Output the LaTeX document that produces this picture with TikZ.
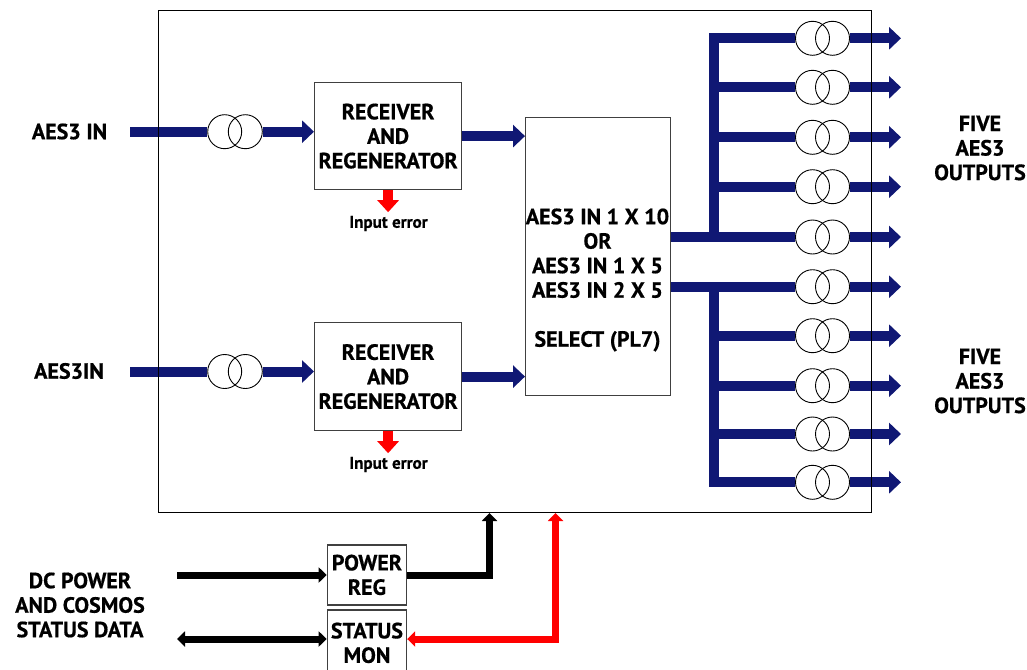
\documentclass[tikz,border=0pt]{standalone}
\usepackage{fontspec}
\setmainfont{PT Sans}
\newfontfamily\hvf{PT Sans}[FakeBold=0.6]
\usetikzlibrary{arrows.meta,calc}
\definecolor{navy}{RGB}{16,24,116}
\begin{document}
\begin{tikzpicture}[x=1pt,y=-1pt,
  lbl/.style={font=\hvf\bfseries\fontsize{22}{24.5}\selectfont, align=center, inner sep=0pt},
  small/.style={font=\hvf\bfseries\fontsize{17}{18}\selectfont, inner sep=0pt},
  box/.style={draw=black!75, line width=1.2pt, inner sep=0pt, anchor=north west, font=\hvf\bfseries\fontsize{22}{24.5}\selectfont, align=center},
  coil/.style={circle, draw=black, line width=0.9pt, minimum size=34pt, inner sep=0pt},
  bus/.style={draw=navy, line width=10pt, line join=miter},
  busarrow/.style={bus, -{Triangle[length=12pt,width=22pt]}},
  errarrow/.style={draw=red, line width=10pt, -{Triangle[length=12pt,width=21pt]}},
  blk/.style={draw=black, line width=7pt, line join=miter},
  blktip/.tip={Triangle[length=8pt,width=15pt]},
  redl/.style={draw=red, line width=7pt, line join=miter},
]
\useasboundingbox (0,0) rectangle (1027,669);

% boxes
\node[box, minimum width=147pt, minimum height=107pt] (rx1) at (314,82) {RECEIVER\\AND\\REGENERATOR};
\node[box, minimum width=147pt, minimum height=108pt] (rx2) at (314,322) {RECEIVER\\AND\\REGENERATOR};
\node[box, minimum width=145pt, minimum height=278pt] (sel) at (525,117) {};
\node[lbl] (seltxt) at (597.5,280) {AES3 IN 1 X 10\\OR\\AES3 IN 1 X 5\\AES3 IN 2 X 5\\[24.5pt]SELECT (PL7)};
\node[box, minimum width=79.3pt, minimum height=60pt] (pwr) at (326.7,544.3) {POWER\\REG};
\node[box, minimum width=79.3pt, minimum height=66pt] (stat) at (326.7,609.3) {STATUS\\MON};

% labels
\node[lbl] (in1lbl) at (69.5,131.5) {AES3 IN};
\node[lbl] (in2lbl) at (69,371) {AES3IN};
\node[lbl] (outAlbl) at (980,148) {FIVE\\AES3\\OUTPUTS};
\node[lbl] (outBlbl) at (980,381) {FIVE\\AES3\\OUTPUTS};
\node[lbl] (dclbl) at (80,605) {DC POWER\\AND COSMOS\\STATUS DATA};

% input transformers
\node[coil] (t1a) at (224.7,131.7) {};
\node[coil] (t1b) at (245.3,131.7) {};
\node[coil] (t2a) at (224.7,371.5) {};
\node[coil] (t2b) at (245.3,371.5) {};
\coordinate (in1) at (130,131.7);
\coordinate (in2) at (130,371.5);
\draw[bus] (in1) -- (t1a.west);
\draw[busarrow] (t1b.east) -- (t1b.east -| rx1.west);
\draw[bus] (in2) -- (t2a.west);
\draw[busarrow] (t2b.east) -- (t2b.east -| rx2.west);

% receiver to select
\draw[busarrow] (rx1.east) -- (rx1.east -| sel.west);
\draw[busarrow] (rx2.east) -- (rx2.east -| sel.west);

% error outputs
\coordinate (err1) at ($(rx1.south)+(0,22)$);
\coordinate (err2) at ($(rx2.south)+(0,22)$);
\draw[errarrow] (rx1.south) -- (err1);
\draw[errarrow] (rx2.south) -- (err2);
\node[small] (e1lbl) at (388.5,223.5) {Input error};
\node[small] (e2lbl) at (388.5,464.5) {Input error};

% output transformers
\foreach \i/\y in {1/38.3,2/87.3,3/137.3,4/186.7,5/237,6/286.7,7/335.7,8/385.7,9/434,10/482.3}{
  \node[coil] (c\i a) at (812.5,\y) {};
  \node[coil] (c\i b) at (832.5,\y) {};
  \coordinate (o\i) at (901,\y);
  \draw[busarrow] (c\i b.east) -- (o\i);
}
\coordinate (bx) at (714,0);
\draw[bus] (sel.east |- c5a) -- (bx |- c5a) -- (bx |- c1a) -- (c1a.west);
\draw[bus] (bx |- c5a) -- (c5a.west);
\foreach \i in {2,3,4}{ \draw[bus] (bx |- c\i a) -- (c\i a.west); }
\draw[bus] (sel.east |- c6a) -- (c6a.west);
\draw[bus] (bx |- c6a) -- (bx |- c10a) -- (c10a.west);
\foreach \i in {7,8,9}{ \draw[bus] (bx |- c\i a) -- (c\i a.west); }

% main enclosure
\node[draw=black, line width=1pt, minimum width=713pt, minimum height=502pt, inner sep=0pt, anchor=north west] (main) at (158,10) {};

% power / status
\coordinate (dcin) at (177,575);
\coordinate (stin) at (177,639);
\coordinate (pu) at (489.5,513);
\coordinate (rs) at (555.5,513);
\draw[blk, -{blktip}] (dcin) -- (dcin -| pwr.west);
\draw[blk, {blktip}-{blktip}] (stin) -- (stin -| stat.west);
\draw[blk, -{blktip}] (pwr.east |- dcin) -| (pu);
\draw[redl, {blktip}-{blktip}] (rs) |- (stat.east |- stin);
\end{tikzpicture}
\end{document}
